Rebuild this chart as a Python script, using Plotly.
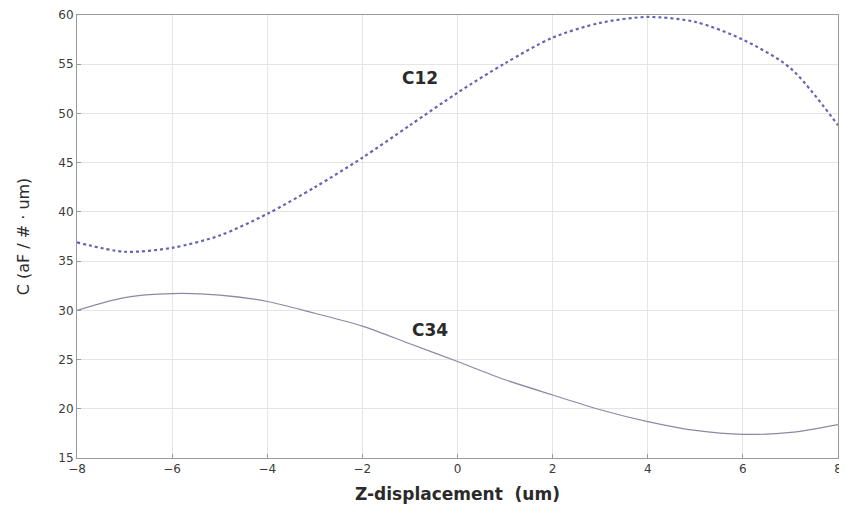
import plotly.graph_objects as go

z_disp = [-8, -7, -6, -5, -4, -3, -2, -1, 0, 1, 2, 3, 4, 5, 6, 7, 8]
c12 = [36.9, 35.95, 36.35, 37.6, 39.8, 42.5, 45.5, 48.8, 52.1, 55.1, 57.7, 59.2, 59.8, 59.3, 57.5, 54.6, 48.8]
c34 = [30.0, 31.3, 31.7, 31.55, 30.9, 29.7, 28.4, 26.6, 24.8, 22.95, 21.4, 19.9, 18.7, 17.8, 17.4, 17.6, 18.4]
x_ticks = [-8, -6, -4, -2, 0, 2, 4, 6, 8]
y_ticks = [15, 20, 25, 30, 35, 40, 45, 50, 55, 60]

font = "DejaVu Sans, Liberation Sans, sans-serif"

fig = go.Figure()
fig.add_trace(go.Scatter(x=z_disp, y=c12, mode="lines", name="C12",
                         line=dict(color="#6464b4", width=2.2, dash="dot", shape="spline", smoothing=0.8)))
fig.add_trace(go.Scatter(x=z_disp, y=c34, mode="lines", name="C34",
                         line=dict(color="#8a8aa6", width=1.2, shape="spline", smoothing=0.8)))

fig.add_annotation(x=-0.79, y=53.6, text="<b>C12</b>", showarrow=False,
                   font=dict(family=font, size=17, color="#2a2a2a"))
fig.add_annotation(x=-0.58, y=28.0, text="<b>C34</b>", showarrow=False,
                   font=dict(family=font, size=17, color="#2a2a2a"))

axis_common = dict(showgrid=True, gridcolor="#e4e4e4", gridwidth=1,
                   showline=True, linecolor="#9a9a9a", linewidth=1, mirror=True,
                   ticks="inside", ticklen=4, tickcolor="#9a9a9a", automargin=False,
                   ticklabeloverflow="allow",
                   zeroline=False, tickfont=dict(family=font, size=12, color="#3c3c3c"))

fig.update_xaxes(range=[-8, 8], tickvals=x_ticks,
                 title=dict(text="<b>Z-displacement  (um)</b>", font=dict(family=font, size=17, color="#2a2a2a"), standoff=12),
                 **axis_common)
fig.update_yaxes(range=[15, 60], tickvals=y_ticks,
                 title=dict(text="C (aF / # · um)", font=dict(family=font, size=16, color="#2a2a2a"), standoff=24),
                 **axis_common)

fig.update_layout(width=839, height=505, showlegend=False,
                  margin=dict(l=69, r=9, t=7, b=55),
                  plot_bgcolor="white", paper_bgcolor="white")

fig.write_html("out.html")
